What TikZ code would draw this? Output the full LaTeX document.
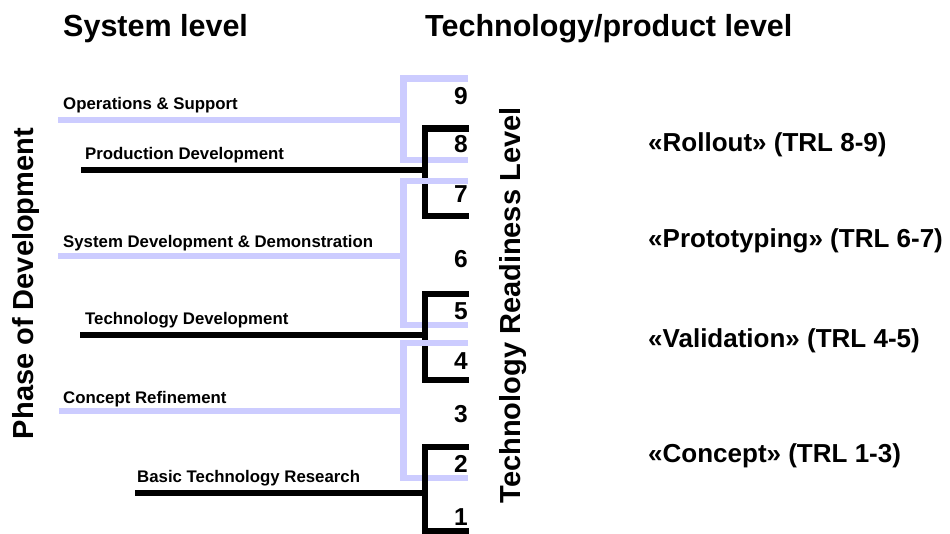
\documentclass[tikz,border=0pt]{standalone}
\usepackage{fontspec}
\setmainfont{Liberation Sans}
\definecolor{lavender}{RGB}{204,204,255}
\begin{document}
\begin{tikzpicture}[x=1pt,y=-1pt,
  lav/.style={draw=lavender,line width=6.5pt,line join=miter},
  blk/.style={draw=black,line width=6.5pt,line join=miter},
  head/.style={inner sep=0pt,anchor=base west,font=\fontsize{30.5}{35}\selectfont\bfseries},
  phase/.style={inner sep=0pt,anchor=base west,font=\fontsize{16.8}{20}\selectfont\bfseries},
  trl/.style={inner sep=0pt,anchor=base east,font=\fontsize{24.5}{29}\selectfont\bfseries},
  side/.style={inner sep=0pt,anchor=base,rotate=90,font=\fontsize{29}{34}\selectfont\bfseries},
  stage/.style={inner sep=0pt,anchor=base west,font=\fontsize{26}{31}\selectfont\bfseries}]
\useasboundingbox (0,0) rectangle (950,534);
\fill[white] (0,0) rectangle (950,534);

% headers
\node[head] (hsys) at (63,37) {System level};
\node[head] (htech) at (425,37) {Technology/product level};

% axis titles
\node[side] (pod) at (33,283.5) {Phase of Development};
\node[side] (trlt) at (520,305.5) {Technology Readiness Level};

% coordinates of brackets
\coordinate (l1t) at (468,78.5);  \coordinate (l1b) at (468,160);  \coordinate (l1s) at (58,120);
\coordinate (b1t) at (469,128.5); \coordinate (b1b) at (469,216);  \coordinate (b1s) at (81,170);
\coordinate (l2t) at (468,181);   \coordinate (l2b) at (468,325);  \coordinate (l2s) at (58,256);
\coordinate (b2t) at (469,294);   \coordinate (b2b) at (469,380);  \coordinate (b2s) at (80,335);
\coordinate (l3t) at (468,343);   \coordinate (l3b) at (468,478);  \coordinate (l3s) at (59,411);
\coordinate (b3t) at (469,447);   \coordinate (b3b) at (469,531.5); \coordinate (b3s) at (135,493);

% brackets, drawn top to bottom
\draw[lav] (l1t) -| (403.5,160) -- (l1b);
\draw[lav] (l1s) -- (403.5,120);
\draw[blk] (b1t) -| (425,216) -- (b1b);
\draw[blk] (b1s) -- (425,170);
\draw[lav] (l2t) -| (403.5,325) -- (l2b);
\draw[lav] (l2s) -- (403.5,256);
\draw[blk] (b2t) -| (425,380) -- (b2b);
\draw[blk] (b2s) -- (425,335);
\draw[lav] (l3t) -| (403.5,478) -- (l3b);
\draw[lav] (l3s) -- (403.5,411);
\draw[blk] (b3t) -| (425,531.5) -- (b3b);
\draw[blk] (b3s) -- (425,493);

% phase labels
\node[phase] (p1) at (63,110) {Operations \& Support};
\node[phase] (p2) at (85,160) {Production Development};
\node[phase] (p3) at (63,248) {System Development \& Demonstration};
\node[phase] (p4) at (85,325) {Technology Development};
\node[phase] (p5) at (63,403) {Concept Refinement};
\node[phase] (p6) at (137,482) {Basic Technology Research};

% TRL numbers
\node[trl] (n9) at (468,105) {9};
\node[trl] (n8) at (468,153) {8};
\node[trl] (n7) at (468,203) {7};
\node[trl] (n6) at (468,268) {6};
\node[trl] (n5) at (468,320) {5};
\node[trl] (n4) at (468,370) {4};
\node[trl] (n3) at (468,422) {3};
\node[trl] (n2) at (468,472) {2};
\node[trl] (n1) at (468,525) {1};

% stage labels
\node[stage] (s1) at (648,152) {«Rollout» (TRL 8-9)};
\node[stage] (s2) at (648,248) {«Prototyping» (TRL 6-7)};
\node[stage] (s3) at (648,348) {«Validation» (TRL 4-5)};
\node[stage] (s4) at (648,462) {«Concept» (TRL 1-3)};
\end{tikzpicture}
\end{document}
